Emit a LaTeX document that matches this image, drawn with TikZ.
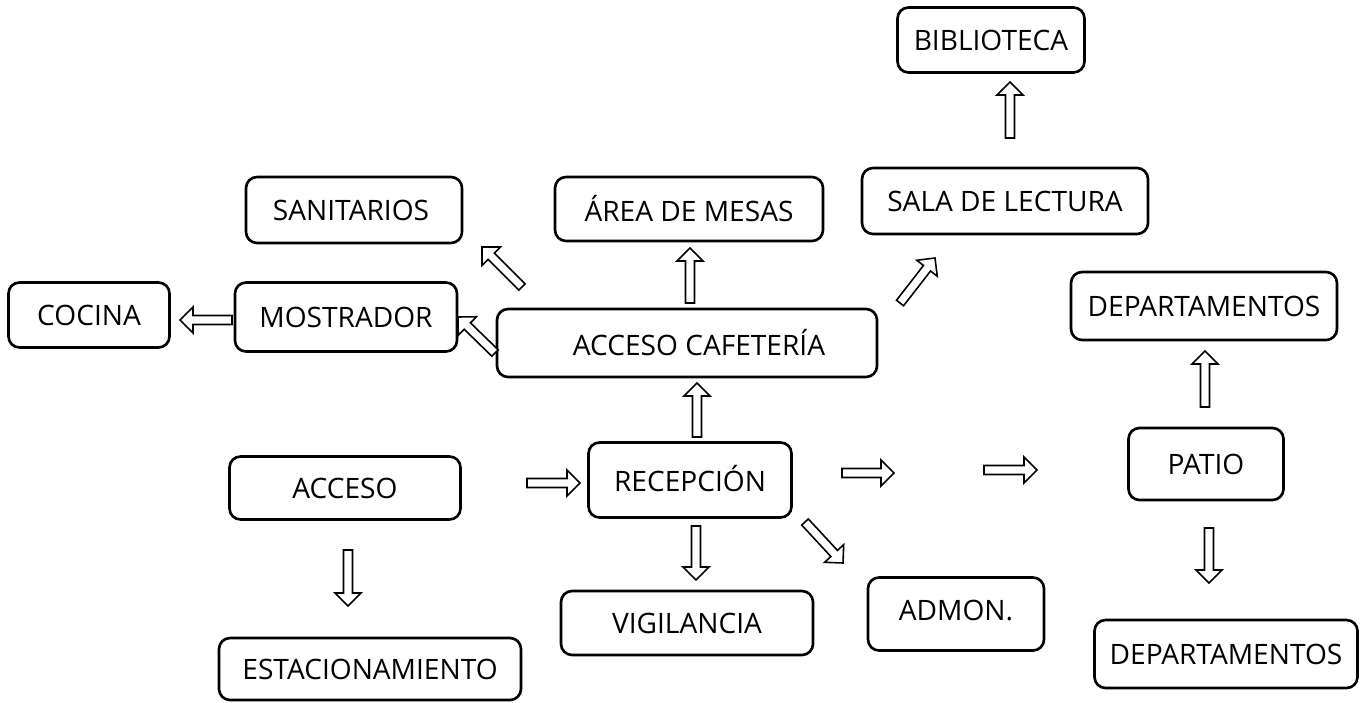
\documentclass[tikz,border=0pt]{standalone}
\usepackage{fontspec}
\setmainfont{Open Sans}
\usetikzlibrary{calc}
\tikzset{
  box/.style={draw, line width=1.5pt, rounded corners=0.22cm, inner sep=0pt, align=center, font=\fontsize{16}{18}\selectfont},
  harr/.style={draw, line width=0.9pt, line join=miter, fill=white}
}
\newcommand\harrow[1]{%
  \coordinate (#1h) at ($(#1e)!0.26cm!(#1s)$);
  \draw[harr] ($(#1s)!0.09cm!90:(#1e)$) -- ($(#1h)!0.09cm!90:(#1e)$) -- ($(#1h)!0.26cm!90:(#1e)$) -- (#1e) -- ($(#1h)!0.26cm!-90:(#1e)$) -- ($(#1h)!0.09cm!-90:(#1e)$) -- ($(#1s)!0.09cm!-90:(#1e)$) -- cycle;}
\newcommand\bx[6]{\node[box, minimum width={#4*0.02cm}, minimum height={#5*0.02cm}] (#1) at (#2,#3) {#6};}
\begin{document}
\begin{tikzpicture}[x=0.02cm, y=-0.02cm]
\useasboundingbox (0,0) rectangle (1366,703);
\bx{bib}{991}{40}{187}{65}{BIBLIOTECA}
\bx{san}{354}{210}{216}{66}{SANITARIOS\hspace*{0.12cm}}
\bx{mesas}{689}{209}{268}{64}{ÁREA DE MESAS}
\bx{sala}{1005}{201}{286}{66}{SALA DE LECTURA}
\bx{coc}{89}{315}{161}{65}{COCINA}
\bx{most}{346}{317}{222}{69}{MOSTRADOR}
\bx{acaf}{687}{343}{380}{68}{\hspace*{0.48cm}ACCESO CAFETERÍA}
\bx{dep1}{1204}{306}{266}{68}{DEPARTAMENTOS}
\bx{acc}{345}{488}{231}{63}{ACCESO}
\bx{rec}{690}{480}{203}{75}{\raisebox{0.06cm}{RECEPCIÓN}}
\bx{patio}{1206}{464}{155}{72}{PATIO}
\bx{vig}{687}{623}{252}{64}{VIGILANCIA}
\bx{adm}{956}{614}{176}{73}{\raisebox{0.16cm}{ADMON.}}
\bx{est}{370}{669}{302}{62}{ESTACIONAMIENTO}
\bx{dep2}{1226}{654}{263}{68}{DEPARTAMENTOS}
% arrow end points
\coordinate (a1s) at (232,320);  \coordinate (a1e) at (180,320);
\coordinate (a2s) at (495,353);  \coordinate (a2e) at (458,317);
\coordinate (a3s) at (522,287);  \coordinate (a3e) at (482,247);
\coordinate (a4s) at (690,303);  \coordinate (a4e) at (690,248);
\coordinate (a5s) at (900,303);  \coordinate (a5e) at (935,258);
\coordinate (a6s) at (1010,138); \coordinate (a6e) at (1010,82);
\coordinate (a7s) at (697,437);  \coordinate (a7e) at (697,383);
\coordinate (a8s) at (527,483);  \coordinate (a8e) at (580,483);
\coordinate (a9s) at (696,526);  \coordinate (a9e) at (696,580);
\coordinate (a10s) at (805,522); \coordinate (a10e) at (843,563);
\coordinate (a11s) at (842,473); \coordinate (a11e) at (894,473);
\coordinate (a12s) at (984,470); \coordinate (a12e) at (1037,470);
\coordinate (a13s) at (1205,407); \coordinate (a13e) at (1205,351);
\coordinate (a14s) at (1209,528); \coordinate (a14e) at (1209,583);
\coordinate (a15s) at (348,550); \coordinate (a15e) at (348,606);
\foreach \a in {a1,a2,a3,a4,a5,a6,a7,a8,a9,a10,a11,a12,a13,a14,a15}{\harrow{\a}}
\end{tikzpicture}
\end{document}
